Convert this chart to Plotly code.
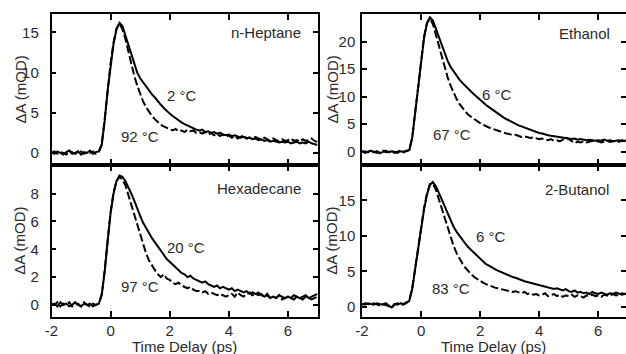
import plotly.graph_objects as go

# Time delay grid (ps)
time_ps = [-2.0, -1.9, -1.8, -1.7, -1.6, -1.5, -1.4, -1.3, -1.2, -1.1,
           -1.0, -0.9, -0.8, -0.7, -0.6, -0.5, -0.4, -0.3, -0.2, -0.1,
           0.0, 0.1, 0.2, 0.3, 0.4, 0.5, 0.6, 0.7, 0.8, 0.9,
           1.0, 1.1, 1.2, 1.3, 1.4, 1.5, 1.6, 1.7, 1.8, 1.9,
           2.0, 2.1, 2.2, 2.3, 2.4, 2.5, 2.6, 2.7, 2.8, 2.9,
           3.0, 3.1, 3.2, 3.3, 3.4, 3.5, 3.6, 3.7, 3.8, 3.9,
           4.0, 4.1, 4.2, 4.3, 4.4, 4.5, 4.6, 4.7, 4.8, 4.9,
           5.0, 5.1, 5.2, 5.3, 5.4, 5.5, 5.6, 5.7, 5.8, 5.9,
           6.0, 6.1, 6.2, 6.3, 6.4, 6.5, 6.6, 6.7, 6.8, 6.9, 7.0]

# n-Heptane
heptane_2C = [0.1, -0.1, 0.2, 0.0, -0.2, 0.1, 0.3, -0.1, 0.0, 0.2,
              -0.2, 0.1, 0.0, 0.3, -0.1, 0.1, 0.2, 1.0, 4.0, 7.8,
              11.0, 13.6, 15.4, 16.2, 15.8, 14.6, 13.3, 12.1, 11.0, 10.0,
              9.3, 8.8, 8.2, 7.7, 7.3, 6.9, 6.4, 6.0, 5.6, 5.2,
              4.9, 4.6, 4.3, 4.0, 3.8, 3.6, 3.4, 3.2, 3.1, 2.9,
              2.8, 2.9, 2.6, 2.7, 2.5, 2.6, 2.4, 2.5, 2.3, 2.2,
              2.3, 2.1, 2.2, 2.0, 1.9, 2.0, 1.8, 1.9, 1.7, 1.8,
              1.6, 1.7, 1.5, 1.6, 1.4, 1.5, 1.4, 1.3, 1.4, 1.3,
              1.4, 1.2, 1.3, 1.4, 1.2, 1.3, 1.2, 1.4, 1.2, 1.1, 1.0]
heptane_92C = [0.0, 0.2, -0.1, 0.1, 0.0, -0.2, 0.2, 0.1, -0.1, 0.0,
               0.2, -0.1, 0.1, 0.0, 0.2, -0.1, 0.1, 1.1, 4.2, 8.0,
               11.2, 13.8, 15.5, 16.1, 15.4, 14.2, 12.6, 11.0, 9.6, 8.4,
               7.3, 6.4, 5.7, 5.1, 4.6, 4.2, 3.8, 3.5, 3.3, 3.1,
               2.9, 2.8, 3.0, 2.7, 2.8, 2.6, 2.9, 2.7, 2.8, 2.5,
               2.6, 2.4, 2.6, 2.3, 2.5, 2.2, 2.4, 2.1, 2.3, 2.0,
               2.2, 1.9, 2.1, 1.8, 2.0, 2.2, 1.8, 1.9, 1.7, 2.0,
               1.8, 1.6, 1.9, 1.7, 1.5, 1.8, 1.6, 1.4, 1.7, 1.5,
               1.6, 1.8, 1.5, 1.6, 1.4, 1.7, 1.5, 1.6, 1.8, 1.5, 1.4]

# Ethanol
ethanol_6C = [0.1, -0.2, 0.0, 0.2, -0.1, 0.1, -0.3, 0.0, 0.2, -0.1,
              0.1, 0.0, -0.2, 0.1, 0.0, 0.2, 0.3, 2.5, 6.8, 11.5,
              16.5, 20.6, 23.3, 24.4, 23.8, 22.3, 20.6, 19.1, 17.7, 16.5,
              15.4, 14.6, 13.8, 13.1, 12.5, 11.9, 11.4, 10.9, 10.4, 9.9,
              9.4, 8.9, 8.5, 8.1, 7.7, 7.3, 6.9, 6.5, 6.2, 5.9,
              5.6, 5.3, 5.1, 4.8, 4.6, 4.4, 4.2, 4.0, 3.7, 3.6,
              3.4, 3.3, 3.1, 3.0, 2.9, 2.8, 2.7, 2.6, 2.5, 2.5,
              2.4, 2.3, 2.4, 2.2, 2.3, 2.2, 2.1, 2.2, 2.1, 2.0,
              2.1, 2.0, 2.2, 2.0, 2.1, 1.9, 2.0, 2.1, 1.9, 2.0, 2.1]
ethanol_67C = [0.0, 0.1, -0.1, 0.2, 0.0, -0.2, 0.1, 0.2, -0.1, 0.0,
               0.1, -0.2, 0.0, 0.2, -0.1, 0.1, 0.3, 2.6, 7.0, 11.7,
               16.6, 20.8, 23.4, 24.2, 23.2, 21.2, 19.2, 17.2, 15.3, 13.5,
               12.0, 10.7, 9.6, 8.7, 7.9, 7.3, 6.7, 6.3, 5.9, 5.5,
               5.2, 4.9, 4.6, 4.4, 4.2, 4.0, 3.8, 3.6, 3.5, 3.3,
               3.2, 3.0, 3.1, 2.9, 2.7, 2.8, 2.6, 2.5, 2.6, 2.4,
               2.3, 2.4, 2.2, 2.1, 2.3, 2.0, 2.1, 1.9, 2.2, 2.6,
               2.3, 1.9, 1.6, 1.8, 1.7, 1.9, 1.7, 1.8, 2.0, 1.8,
               1.9, 1.7, 1.9, 2.0, 1.8, 1.9, 2.0, 1.8, 2.1, 1.9, 2.0]

# Hexadecane
hexadecane_20C = [0.0, 0.1, -0.1, 0.2, 0.0, 0.1, -0.1, 0.0, 0.2, 0.0,
                  -0.1, 0.1, 0.0, 0.1, -0.1, 0.0, 0.1, 0.7, 2.4, 4.6,
                  6.6, 8.0, 8.9, 9.3, 9.2, 8.9, 8.5, 8.0, 7.5, 6.9,
                  6.4, 5.9, 5.5, 5.1, 4.8, 4.5, 4.2, 3.9, 3.6, 3.3,
                  3.1, 2.9, 2.7, 2.5, 2.3, 2.2, 2.0, 2.1, 1.9, 1.8,
                  1.7, 1.6, 1.7, 1.5, 1.4, 1.3, 1.4, 1.2, 1.3, 1.2,
                  1.1, 1.2, 1.0, 1.1, 1.0, 0.9, 1.0, 0.8, 0.9, 0.8,
                  0.7, 0.8, 0.6, 0.7, 0.5, 0.6, 0.5, 0.7, 0.6, 0.5,
                  0.6, 0.5, 0.7, 0.6, 0.5, 0.6, 0.7, 0.5, 0.6, 0.7, 0.8]
hexadecane_97C = [0.1, 0.0, 0.2, -0.1, 0.1, 0.0, 0.2, -0.1, 0.0, 0.1,
                  -0.1, 0.2, 0.0, -0.1, 0.1, 0.0, 0.1, 0.8, 2.5, 4.7,
                  6.7, 8.1, 8.9, 9.2, 9.0, 8.6, 7.9, 7.1, 6.4, 5.7,
                  5.0, 4.3, 3.7, 3.2, 2.8, 2.5, 2.2, 2.0, 2.2, 1.9,
                  1.8, 1.6, 1.5, 1.6, 1.4, 1.3, 1.2, 1.3, 1.1, 1.0,
                  1.0, 0.9, 1.0, 0.8, 0.9, 0.8, 0.7, 0.8, 0.7, 0.6,
                  0.7, 0.8, 0.6, 0.9, 0.7, 0.6, 0.8, 0.9, 0.7, 0.8,
                  0.9, 0.7, 0.6, 0.8, 0.5, 0.6, 0.5, 0.7, 0.4, 0.5,
                  0.6, 0.5, 0.4, 0.6, 0.5, 0.4, 0.6, 0.5, 0.4, 0.5, 0.6]

# 2-Butanol
butanol_6C = [0.4, 0.3, 0.5, 0.4, 0.3, 0.5, 0.4, 0.3, 0.5, 0.2,
              -0.1, 0.4, 0.3, 0.5, 0.4, 0.6, 0.8, 2.5, 5.2, 8.3,
              11.2, 13.7, 15.8, 17.2, 17.6, 17.0, 16.1, 15.1, 14.2, 13.2,
              12.2, 11.3, 10.6, 10.0, 9.4, 8.9, 8.4, 8.0, 7.5, 7.1,
              6.7, 6.4, 6.0, 5.8, 5.5, 5.3, 5.1, 4.9, 4.7, 4.5,
              4.4, 4.2, 4.1, 3.9, 3.8, 3.6, 3.5, 3.4, 3.2, 3.1,
              3.0, 2.9, 2.8, 2.8, 2.6, 2.5, 2.6, 2.4, 2.3, 2.5,
              2.2, 2.1, 2.3, 2.0, 2.1, 1.9, 2.0, 1.8, 2.1, 1.9,
              1.8, 2.0, 1.9, 1.7, 1.9, 1.8, 2.0, 1.9, 1.7, 1.8, 1.9]
butanol_83C = [0.3, 0.5, 0.4, 0.3, 0.5, 0.4, 0.2, 0.4, 0.3, 0.1,
               -0.2, 0.3, 0.5, 0.4, 0.3, 0.5, 0.9, 2.6, 5.3, 8.4,
               11.3, 13.9, 16.0, 17.3, 17.4, 16.5, 15.2, 13.9, 12.4, 11.0,
               9.7, 8.6, 7.6, 6.8, 6.1, 5.5, 5.0, 4.6, 4.2, 3.9,
               3.6, 3.4, 3.2, 3.0, 2.9, 2.7, 2.6, 2.5, 2.4, 2.3,
               2.2, 2.1, 2.2, 2.0, 1.9, 2.1, 1.8, 1.9, 1.7, 1.8,
               1.6, 1.7, 1.9, 1.5, 1.6, 1.8, 1.5, 1.7, 1.4, 1.6,
               1.5, 1.7, 1.4, 1.6, 1.5, 1.3, 1.6, 1.5, 1.7, 1.5,
               1.6, 1.4, 1.7, 1.6, 1.5, 1.8, 1.6, 1.7, 1.9, 1.8, 1.9]

x_tickvals = [-2, 0, 2, 4, 6]
x_ticktext = ["-2", "0", "2", "4", "6"]
panel_names = ["n-Heptane", "Ethanol", "Hexadecane", "2-Butanol"]
low_temp_labels = ["2 °C", "6 °C", "20 °C", "6 °C"]
high_temp_labels = ["92 °C", "67 °C", "97 °C", "83 °C"]
y_tickvals = [[0, 5, 10, 15], [0, 5, 10, 15, 20], [0, 2, 4, 6, 8], [0, 5, 10, 15]]
y_ranges = [[-1.5, 17.3], [-2.4, 25.0], [-0.84, 10.05], [-1.4, 20.0]]
x_ranges = [[-2, 7], [-2, 6.94], [-2, 7], [-2, 6.94]]

# label positions (data coords)
name_pos = [(6.5, 15.0), (6.45, 21.5), (6.5, 8.33), (6.42, 16.6)]
low_pos = [(1.85, 7.2), (2.0, 10.4), (1.85, 4.11), (1.78, 9.9)]
high_pos = [(0.28, 2.0), (0.35, 3.2), (0.28, 1.36), (0.29, 2.6)]

solid_series = [heptane_2C, ethanol_6C, hexadecane_20C, butanol_6C]
dashed_series = [heptane_92C, ethanol_67C, hexadecane_97C, butanol_83C]

W, H = 626, 354
FONT = "Arial, Liberation Sans, sans-serif"
TXT = "#2a2a2a"

x_domains = [[51.5 / W, 317.5 / W], [362 / W, 1.0], [51.5 / W, 317.5 / W], [362 / W, 1.0]]
y_domains = [[1 - 165 / H, 1 - 14 / H], [1 - 165 / H, 1 - 14 / H],
             [1 - 316.7 / H, 1 - 165 / H], [1 - 316.7 / H, 1 - 165 / H]]
label_standoff = [8, 2, 8, 2]
ytitle_x = [20, 332, 20, 332]

fig = go.Figure()
annotations = []
for k in range(4):
    sfx = "" if k == 0 else str(k + 1)
    xa, ya = "x" + sfx, "y" + sfx
    fig.add_trace(go.Scatter(x=time_ps, y=dashed_series[k], mode="lines",
                             line=dict(color="black", width=2, dash="8px,3px"),
                             xaxis=xa, yaxis=ya, showlegend=False))
    fig.add_trace(go.Scatter(x=time_ps, y=solid_series[k], mode="lines",
                             line=dict(color="black", width=2),
                             xaxis=xa, yaxis=ya, showlegend=False))
    bottom = k >= 2
    fig.layout["xaxis" + sfx] = dict(
        domain=x_domains[k], range=x_ranges[k], anchor=ya, automargin=False,
        tickvals=x_tickvals, ticktext=x_ticktext, showticklabels=bottom,
        ticks="inside", ticklen=6, tickwidth=1.5, tickcolor="black",
        showline=True, linecolor="black", linewidth=1.5, mirror="allticks",
        showgrid=False, zeroline=False,
        tickfont=dict(family=FONT, size=15, color=TXT),
    )
    fig.layout["yaxis" + sfx] = dict(
        domain=y_domains[k], range=y_ranges[k], anchor=xa, automargin=False,
        tickvals=y_tickvals[k],
        ticks="inside", ticklen=5, tickwidth=1.5, tickcolor="black",
        showline=True, linecolor="black", linewidth=1.5, mirror="allticks",
        showgrid=False, zeroline=False, ticklabelstandoff=label_standoff[k],
        tickfont=dict(family=FONT, size=15, color=TXT),
    )
    annotations.append(dict(x=name_pos[k][0], y=name_pos[k][1], xref=xa, yref=ya,
                            text=panel_names[k], showarrow=False, xanchor="right",
                            font=dict(family=FONT, size=15, color=TXT)))
    annotations.append(dict(x=low_pos[k][0], y=low_pos[k][1], xref=xa, yref=ya,
                            text=low_temp_labels[k], showarrow=False, xanchor="left",
                            font=dict(family=FONT, size=15, color=TXT)))
    annotations.append(dict(x=high_pos[k][0], y=high_pos[k][1], xref=xa, yref=ya,
                            text=high_temp_labels[k], showarrow=False, xanchor="left",
                            font=dict(family=FONT, size=15, color=TXT)))
    # y axis title
    annotations.append(dict(x=ytitle_x[k] / W, y=sum(y_domains[k]) / 2, xref="paper", yref="paper",
                            text="ΔA (mOD)", textangle=-90, showarrow=False,
                            xanchor="center", yanchor="middle",
                            font=dict(family=FONT, size=15, color=TXT)))
    if bottom:
        annotations.append(dict(x=sum(x_domains[k]) / 2, y=1 - 346 / H, xref="paper", yref="paper",
                                text="Time Delay (ps)", showarrow=False,
                                xanchor="center", yanchor="middle",
                                font=dict(family=FONT, size=15, color=TXT)))

fig.update_layout(width=W, height=H, margin=dict(l=0, r=0, t=0, b=0, autoexpand=False),
                  paper_bgcolor="white", plot_bgcolor="white",
                  annotations=annotations)

fig.write_html("out.html", config={"displayModeBar": False},
               post_script="document.body.style.margin='0';")
